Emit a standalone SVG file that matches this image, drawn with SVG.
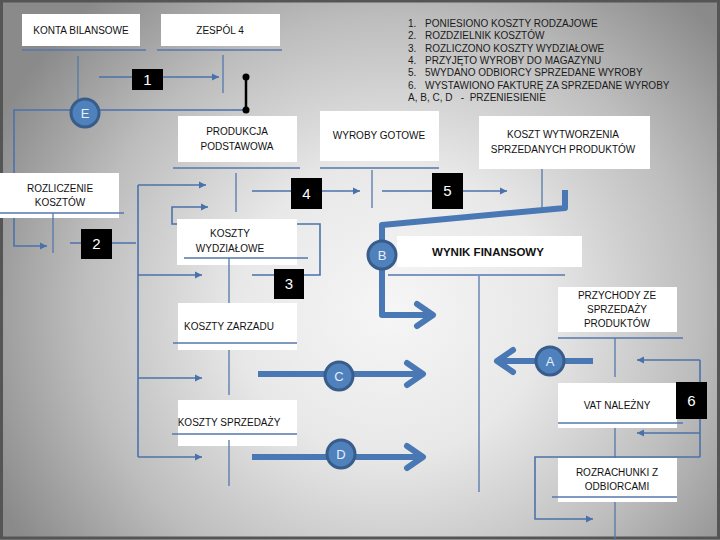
<svg xmlns="http://www.w3.org/2000/svg" width="720" height="540" viewBox="0 0 720 540">
<defs>
<radialGradient id="bg" gradientUnits="userSpaceOnUse" cx="390" cy="310" r="440" gradientTransform="translate(390 310) scale(1 0.95) translate(-390 -310)">
<stop offset="0" stop-color="#f6f6f6"/>
<stop offset="0.35" stop-color="#e8e8e8"/>
<stop offset="0.7" stop-color="#bdbdbd"/>
<stop offset="1" stop-color="#8a8a8a"/>
</radialGradient>
<marker id="ah" markerUnits="userSpaceOnUse" markerWidth="8" markerHeight="8" refX="7" refY="3.5" orient="auto" overflow="visible">
<path d="M0,0 L7,3.5 L0,7 z" fill="#4a72aa"/>
</marker>
<marker id="chev" markerUnits="userSpaceOnUse" markerWidth="28" markerHeight="28" refX="14" refY="13" orient="auto" overflow="visible">
<path d="M2,2 L18,13 L2,24" fill="none" stroke="#4a78b4" stroke-width="6" stroke-linecap="round" stroke-linejoin="round"/>
</marker>
<marker id="dot" markerUnits="userSpaceOnUse" markerWidth="8" markerHeight="8" refX="4" refY="4" overflow="visible">
<circle cx="4" cy="4" r="3.5" fill="#000"/>
</marker>
</defs>
<style>
.box{fill:#ffffff;stroke:none}
.t{stroke:#5477ab;stroke-width:1.3;fill:none}
.lbl{font-family:"Liberation Sans",Arial,sans-serif;font-size:10px;fill:#111;text-anchor:middle}
.bold{font-weight:bold;font-size:11.5px}
.leg{font-family:"Liberation Sans",Arial,sans-serif;font-size:10px;fill:#1a1a1a}
.thin{stroke:#4a72aa;stroke-width:1.6;fill:none}
.thick{stroke:#4a78b4;stroke-width:6;fill:none;stroke-linejoin:round}
.nb{fill:#000}
.nt{font-family:"Liberation Sans",Arial,sans-serif;font-size:15px;fill:#fff;text-anchor:middle}
.circ{fill:#4f81bd;stroke:#385d8a;stroke-width:3}
.ct{font-family:"Liberation Sans",Arial,sans-serif;font-size:13px;fill:#e8eef8;text-anchor:middle}
</style>
<rect x="0" y="0" width="720" height="540" fill="url(#bg)"/>
<rect x="1.5" y="1" width="717" height="537" fill="none" stroke="#555" stroke-width="3"/>

<g id="connectors">
<path class="thin" d="M246,110 L14,110 L14,246 L47,246" marker-end="url(#ah)"/>
<line x1="246" y1="77" x2="246" y2="110" stroke="#000" stroke-width="2.5" marker-start="url(#dot)" marker-end="url(#dot)"/>
<line class="thin" x1="99" y1="77" x2="219" y2="77" marker-end="url(#ah)"/>
<line class="thin" x1="70" y1="243" x2="136" y2="243"/>
<line class="thin" x1="138" y1="185" x2="138" y2="457"/>
<line class="thin" x1="138" y1="185" x2="206" y2="185" marker-end="url(#ah)"/>
<line class="thin" x1="138" y1="275" x2="202" y2="275" marker-end="url(#ah)"/>
<line class="thin" x1="138" y1="378" x2="202" y2="378" marker-end="url(#ah)"/>
<line class="thin" x1="138" y1="457" x2="202" y2="457" marker-end="url(#ah)"/>
<path class="thin" d="M252,275 L320,275 L320,224 L172,224 L172,207 L208,207" marker-end="url(#ah)"/>
<line class="thin" x1="252" y1="191" x2="360" y2="191" marker-end="url(#ah)"/>
<line class="thin" x1="382" y1="191" x2="507" y2="191" marker-end="url(#ah)"/>
<path class="thick" d="M565,190 L565,208 L382,225 L382,315 L429,315" marker-end="url(#chev)"/>
<line class="thick" x1="258" y1="374" x2="419" y2="374" marker-end="url(#chev)"/>
<line class="thick" x1="252" y1="457" x2="419" y2="457" marker-end="url(#chev)"/>
<line class="thick" x1="593" y1="361" x2="501" y2="361" marker-end="url(#chev)"/>
<line class="thin" x1="700" y1="360" x2="700" y2="457"/>
<line class="thin" x1="700" y1="360" x2="637" y2="360" marker-end="url(#ah)"/>
<line class="thin" x1="700" y1="433" x2="637" y2="433" marker-end="url(#ah)"/>
<path class="thin" d="M700,457 L535,457 L535,519 L593,519" marker-end="url(#ah)"/>
</g>

<g id="konta-bilansowe">
<rect class="box" x="22" y="14" width="118" height="32"/>
<text class="lbl" x="81" y="33.5">KONTA BILANSOWE</text>
<line class="t" x1="22" y1="50" x2="146" y2="50"/>
<line class="t" x1="78" y1="56" x2="78" y2="100"/>
</g>
<g id="zespol-4">
<rect class="box" x="161" y="14" width="119" height="32"/>
<text class="lbl" x="220" y="33.5">ZESPÓL 4</text>
<line class="t" x1="157" y1="50" x2="282" y2="50"/>
<line class="t" x1="223" y1="55" x2="223" y2="93"/>
</g>
<g id="rozliczenie-kosztow">
<rect class="box" x="0" y="173" width="119" height="45"/>
<text class="lbl" x="60" y="192">ROZLICZENIE</text>
<text class="lbl" x="60" y="206">KOSZTÓW</text>
<line class="t" x1="0" y1="213" x2="124" y2="213"/>
<line class="t" x1="53" y1="213" x2="53" y2="253"/>
</g>
<g id="produkcja-podstawowa">
<rect class="box" x="178" y="116" width="119" height="46"/>
<text class="lbl" x="237" y="135">PRODUKCJA</text>
<text class="lbl" x="237" y="150">PODSTAWOWA</text>
<line class="t" x1="173" y1="168" x2="300" y2="168"/>
<line class="t" x1="236" y1="173" x2="236" y2="212"/>
</g>
<g id="wyroby-gotowe">
<rect class="box" x="320" y="111" width="119" height="50"/>
<text class="lbl" x="379" y="139">WYROBY GOTOWE</text>
<line class="t" x1="320" y1="168" x2="439" y2="168"/>
<line class="t" x1="372" y1="170" x2="372" y2="208"/>
</g>
<g id="koszt-wytworzenia">
<rect class="box" x="479" y="116" width="171" height="53"/>
<text class="lbl" x="563" y="138">KOSZT WYTWORZENIA</text>
<text class="lbl" x="563" y="153">SPRZEDANYCH PRODUKTÓW</text>
<line class="t" x1="542" y1="169" x2="542" y2="208"/>
</g>
<g id="koszty-wydzialowe">
<rect class="box" x="177" y="219" width="120" height="46"/>
<text class="lbl" x="230" y="237">KOSZTY</text>
<text class="lbl" x="230" y="252">WYDZIAŁOWE</text>
<line class="t" x1="184" y1="258" x2="308" y2="258"/>
<line class="t" x1="229" y1="258" x2="229" y2="303"/>
</g>
<g id="wynik-finansowy">
<rect class="box" x="397" y="236" width="185" height="31"/>
<text class="lbl bold" x="488" y="256">WYNIK FINANSOWY</text>
<line class="t" x1="388" y1="275" x2="565" y2="275"/>
<line class="t" x1="479" y1="276" x2="479" y2="492"/>
</g>
<g id="koszty-zarzadu">
<rect class="box" x="178" y="303" width="119" height="47"/>
<text class="lbl" x="229" y="330">KOSZTY ZARZADU</text>
<line class="t" x1="173" y1="343" x2="297" y2="343"/>
<line class="t" x1="229" y1="350" x2="229" y2="395"/>
</g>
<g id="przychody">
<rect class="box" x="558" y="287" width="119" height="45"/>
<text class="lbl" x="617" y="299">PRZYCHODY ZE</text>
<text class="lbl" x="617" y="313">SPRZEDAŻY</text>
<text class="lbl" x="617" y="327">PRODUKTÓW</text>
<line class="t" x1="558" y1="338" x2="683" y2="338"/>
<line class="t" x1="615" y1="338" x2="615" y2="377"/>
</g>
<g id="koszty-sprzedazy">
<rect class="box" x="178" y="400" width="119" height="46"/>
<text class="lbl" x="229" y="426">KOSZTY SPRZEDAŻY</text>
<line class="t" x1="172" y1="434" x2="297" y2="434"/>
<line class="t" x1="229" y1="440" x2="229" y2="486"/>
</g>
<g id="vat-nalezny">
<rect class="box" x="558" y="383" width="119" height="45"/>
<text class="lbl" x="617" y="409">VAT NALEŻNY</text>
<line class="t" x1="558" y1="423" x2="683" y2="423"/>
<line class="t" x1="615" y1="428" x2="615" y2="460"/>
</g>
<g id="rozrachunki">
<rect class="box" x="558" y="458" width="119" height="44"/>
<text class="lbl" x="617" y="476">ROZRACHUNKI Z</text>
<text class="lbl" x="617" y="490">ODBIORCAMI</text>
<line class="t" x1="552" y1="497" x2="677" y2="497"/>
<line class="t" x1="615" y1="502" x2="615" y2="540"/>
</g>

<g id="step-1"><rect class="nb" x="132" y="69" width="31" height="21"/><text class="nt" x="147.5" y="85">1</text></g>
<g id="step-2"><rect class="nb" x="81" y="229" width="31" height="30"/><text class="nt" x="96.5" y="249">2</text></g>
<g id="step-3"><rect class="nb" x="274" y="269" width="30" height="30"/><text class="nt" x="289" y="289">3</text></g>
<g id="step-4"><rect class="nb" x="291" y="178" width="31" height="31"/><text class="nt" x="306.5" y="199">4</text></g>
<g id="step-5"><rect class="nb" x="432" y="173" width="31" height="36"/><text class="nt" x="447.5" y="196">5</text></g>
<g id="step-6"><rect class="nb" x="676" y="382" width="31" height="37"/><text class="nt" x="691.5" y="406">6</text></g>

<g id="circle-E"><circle class="circ" cx="85" cy="113" r="14"/><text class="ct" x="85" y="118">E</text></g>
<g id="circle-B"><circle class="circ" cx="382" cy="255" r="14"/><text class="ct" x="382" y="260">B</text></g>
<g id="circle-C"><circle class="circ" cx="339" cy="376" r="14"/><text class="ct" x="339" y="381">C</text></g>
<g id="circle-D"><circle class="circ" cx="341" cy="454" r="14"/><text class="ct" x="341" y="459">D</text></g>
<g id="circle-A"><circle class="circ" cx="550" cy="361" r="14"/><text class="ct" x="550" y="366">A</text></g>

<g id="legend">
<text class="leg" x="408" y="27">1.</text><text class="leg" x="425" y="27">PONIESIONO KOSZTY RODZAJOWE</text>
<text class="leg" x="408" y="39">2.</text><text class="leg" x="425" y="39">ROZDZIELNIK KOSZTÓW</text>
<text class="leg" x="408" y="52">3.</text><text class="leg" x="425" y="52">ROZLICZONO KOSZTY WYDZIAŁOWE</text>
<text class="leg" x="408" y="64">4.</text><text class="leg" x="425" y="64">PRZYJĘTO WYROBY DO MAGAZYNU</text>
<text class="leg" x="408" y="76">5.</text><text class="leg" x="425" y="76">5WYDANO ODBIORCY SPRZEDANE WYROBY</text>
<text class="leg" x="408" y="89">6.</text><text class="leg" x="425" y="89">WYSTAWIONO FAKTURĘ ZA SPRZEDANE WYROBY</text>
<text class="leg" x="408" y="101" xml:space="preserve">A, B, C, D   -  PRZENIESIENIE</text>
</g>
</svg>
